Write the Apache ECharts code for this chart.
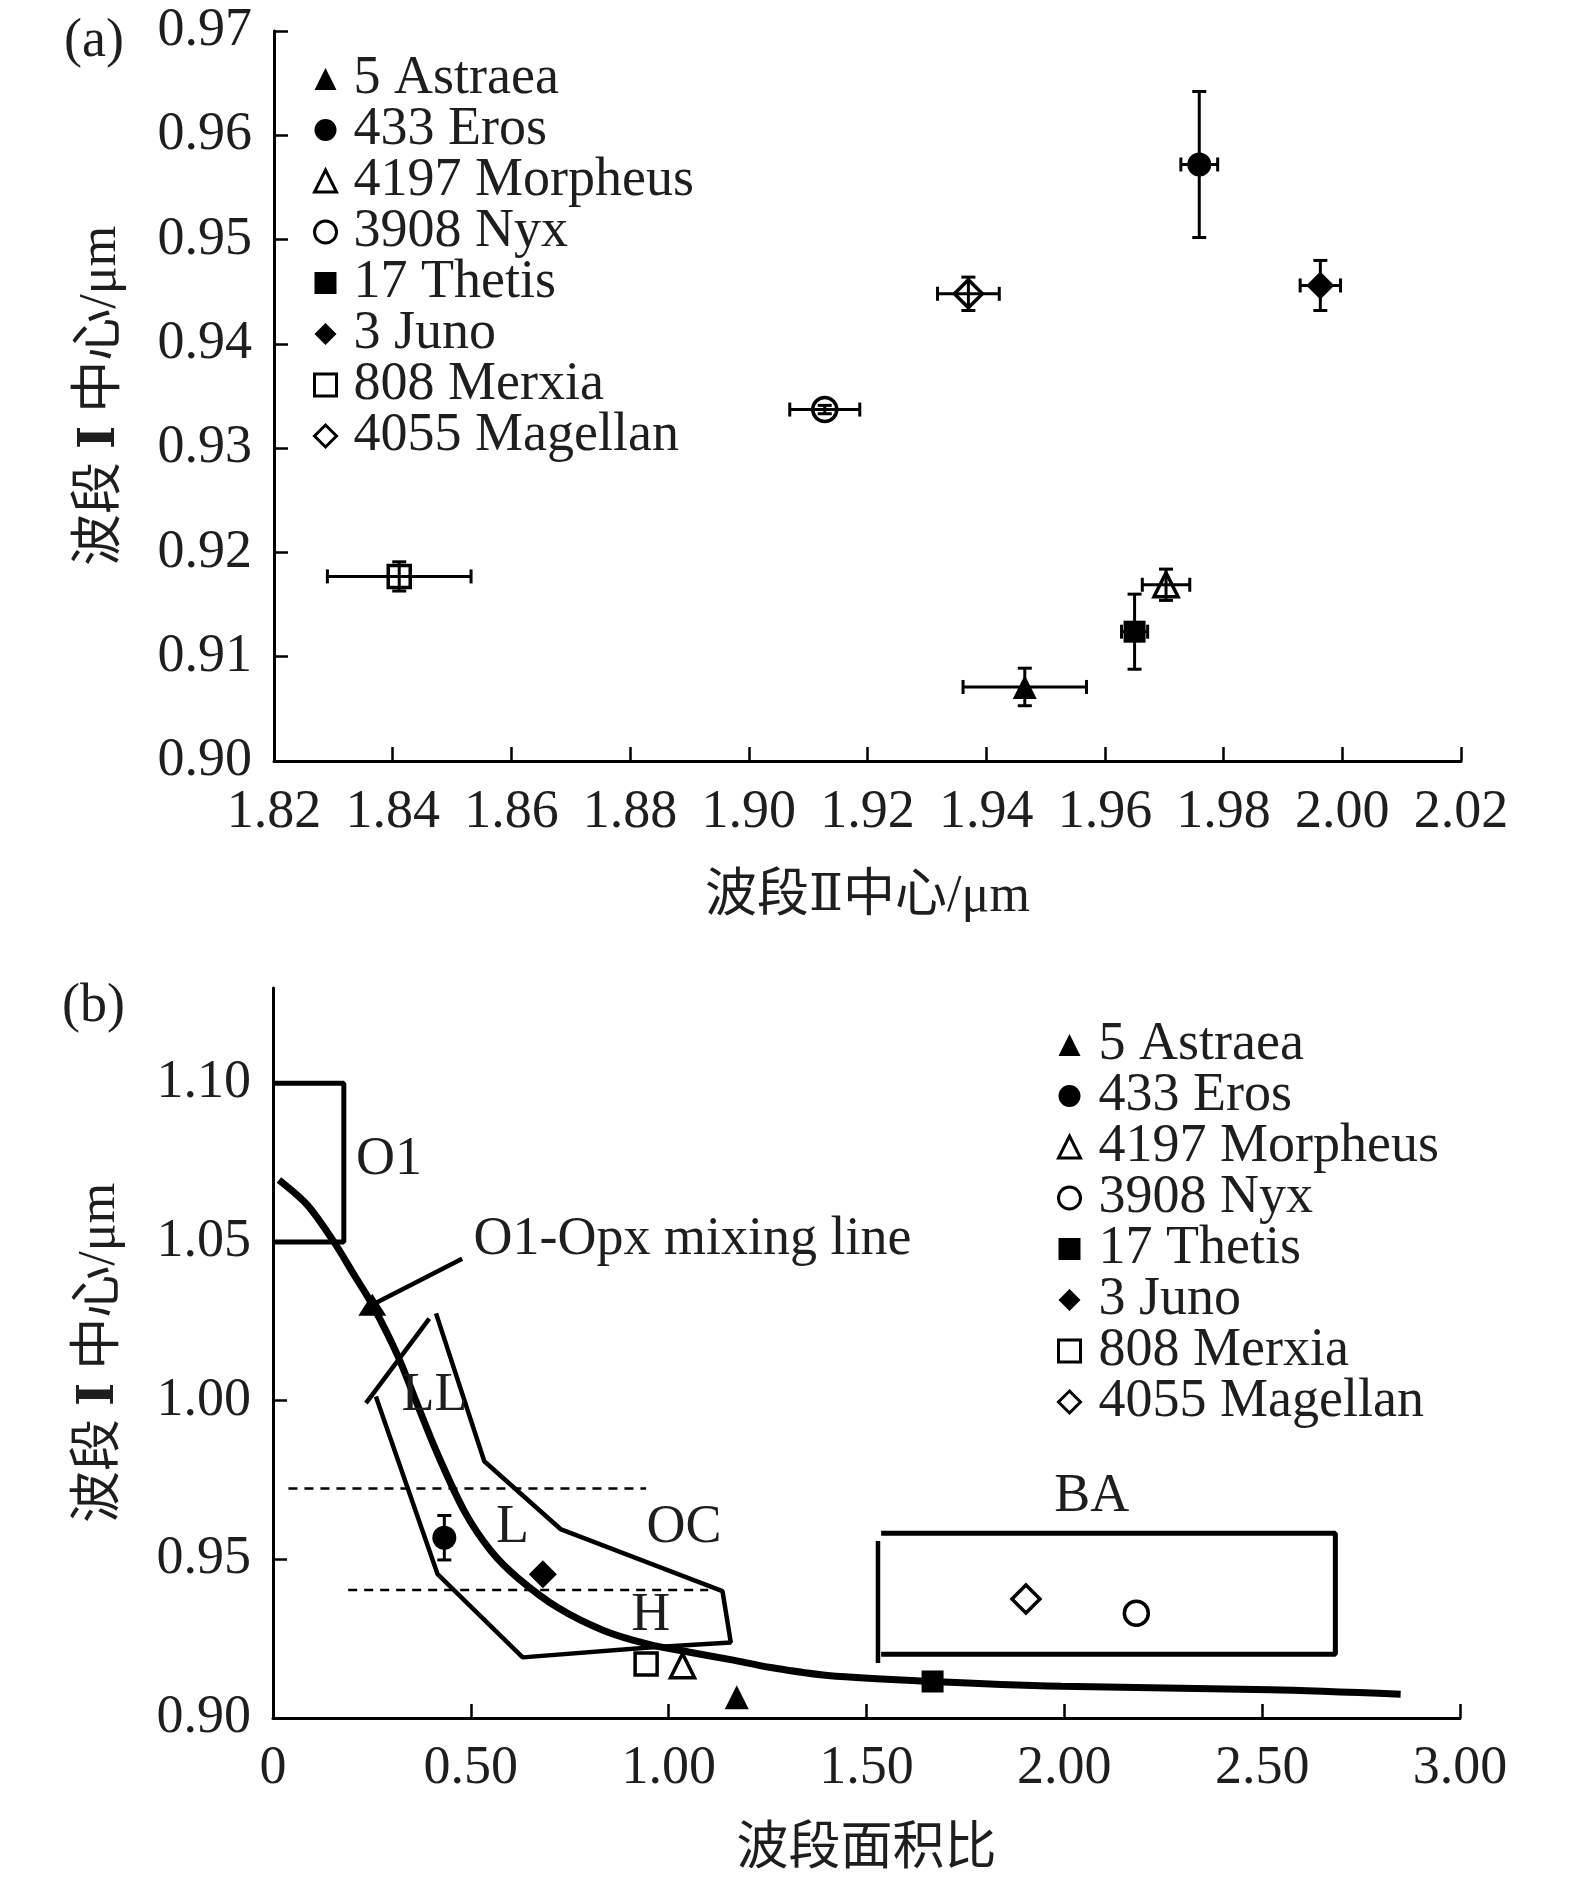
<!DOCTYPE html>
<html>
<head>
<meta charset="utf-8">
<title>波段中心与波段面积比</title>
<script src="https://cdn.jsdelivr.net/npm/echarts@6/dist/echarts.min.js"></script>
<style>
html, body { margin: 0; padding: 0; background: #fff; }
#main { width: 1575px; height: 1890px; }
</style>
</head>
<body>
<div id="main"></div>
<script>
/*
 * (a) 波段Ⅱ中心 - 波段Ⅰ中心 ; (b) 波段面积比 - 波段Ⅰ中心
 */
var asteroids = ['5 Astraea', '433 Eros', '4197 Morpheus', '3908 Nyx', '17 Thetis', '3 Juno', '808 Merxia', '4055 Magellan'];

// (a) 数值, μm
var bandIICenter = [1.9465, 1.9759, 1.9703, 1.9128, 1.9650, 1.9963, 1.8411, 1.9370];
var bandICenterA = [0.9071, 0.9572, 0.9169, 0.9337, 0.9124, 0.9456, 0.9177, 0.9448];
var bandIIError  = [0.0104, 0.0031, 0.0040, 0.0059, 0.0022, 0.0034, 0.0121, 0.0052];
var bandIErrorA  = [0.0018, 0.0070, 0.0015, 0.0004, 0.0036, 0.0024, 0.0014, 0.0016];

// (b) 数值
var areaRatio    = [1.172, 0.433, 1.035, 2.182, 1.667, 0.682, 0.943, 1.903];
var bandICenterB = [0.9065, 0.9568, 0.9165, 0.9330, 0.9115, 0.9453, 0.9170, 0.9375];
var bandIErrorB  = [0, 0.0070, 0, 0, 0, 0, 0, 0];

// (b) 区域与曲线 [波段面积比, 波段Ⅰ中心]
var mixingLine = [[0.015, 1.0695], [0.087, 1.0616], [0.154, 1.050], [0.205, 1.0396], [0.251, 1.0302],
  [0.314, 1.0145], [0.365, 0.9987], [0.413, 0.984], [0.4835, 0.9652], [0.551, 0.9526], [0.618, 0.9442],
  [0.7195, 0.9348], [0.837, 0.9275], [0.95, 0.9232], [1.05, 0.9208], [1.16, 0.9183], [1.258, 0.9159],
  [1.402, 0.9134], [1.665, 0.9115], [1.993, 0.9100], [2.521, 0.9089], [2.85, 0.9075]];
var o1Box = [[0, 1.10], [0.179, 1.10], [0.179, 1.05], [0, 1.05]];
var ocOutline = [[0.260, 1.0013], [0.416, 0.9453], [0.631, 0.9191], [0.95, 0.9222], [1.157, 0.9238],
  [1.136, 0.9400], [0.728, 0.9594], [0.534, 0.9809], [0.412, 1.0275]];
var llCap = [[0.235, 0.9992], [0.395, 1.0258]];
var upperDash = [[0.039, 0.9723], [0.943, 0.9723]];
var lowerDash = [[0.19, 0.9403], [1.10, 0.9403]];
var baSide = [[1.529, 0.9558], [1.529, 0.9173]];
var baBox = [[1.537, 0.9582], [2.685, 0.9582], [2.685, 0.9201], [1.537, 0.9201]];
var pointer = [[0.478, 1.0447], [0.251, 1.0302]];
var regionNames = ['O1', 'LL', 'L', 'OC', 'H', 'BA'];
var regionAt = [[0.293, 1.0758], [0.408, 1.0014], [0.605, 0.9600], [1.039, 0.9600], [0.955, 0.9322], [2.069, 0.9697]];
var pointerText = 'O1-Opx mixing line';
var pointerTextAt = [0.507, 1.0508];

var yTicksB = [0.90, 0.95, 1.00, 1.05, 1.10];

// 样式
var markerShape = ['triangle', 'circle', 'triangle', 'circle', 'rect', 'diamond', 'rect', 'diamond'];
var markerOpen  = [false, false, true, true, false, false, true, true];
var shapeSize = { triangle: 24, circle: 24, rect: 22, diamond: 28 };
var FONT = "'Liberation Serif', 'Noto Sans CJK SC', serif";
var INK = '#1e1e1e';

var myChart = echarts.init(document.getElementById('main'));

function axisCommon(o) {
  var base = {
    type: 'value',
    axisLine: { show: true, onZero: false, lineStyle: { color: '#000', width: 3 } },
    axisTick: { show: true, inside: true, length: 14, lineStyle: { color: '#000', width: 2.5 } },
    axisLabel: { fontSize: 54, color: INK, fontFamily: FONT },
    splitLine: { show: false },
    nameLocation: 'middle',
    nameTextStyle: {
      fontSize: 52, color: INK, fontFamily: FONT,
      rich: {
        r: { fontSize: 50, color: INK, fontFamily: "'DejaVu Serif', 'Liberation Serif', serif", fontWeight: 'bold' },
        n: { fontSize: 50, color: INK, fontFamily: "'DejaVu Serif', 'Liberation Serif', serif" }
      }
    }
  };
  for (var k in o) {
    if (typeof o[k] === 'object' && base[k] && !Array.isArray(o[k])) {
      for (var j in o[k]) base[k][j] = o[k][j];
    } else {
      base[k] = o[k];
    }
  }
  return base;
}

function errorBars(params, api) {
  var x = api.value(0), y = api.value(1), dx = api.value(2), dy = api.value(3);
  var st = { stroke: '#000', lineWidth: 3 };
  var cap = 7;
  var parts = [];
  if (dx > 0) {
    var a = api.coord([x - dx, y]), b = api.coord([x + dx, y]);
    parts.push({ type: 'line', shape: { x1: a[0], y1: a[1], x2: b[0], y2: b[1] }, style: st });
    parts.push({ type: 'line', shape: { x1: a[0], y1: a[1] - cap, x2: a[0], y2: a[1] + cap }, style: st });
    parts.push({ type: 'line', shape: { x1: b[0], y1: b[1] - cap, x2: b[0], y2: b[1] + cap }, style: st });
  }
  if (dy > 0) {
    var c = api.coord([x, y - dy]), d = api.coord([x, y + dy]);
    parts.push({ type: 'line', shape: { x1: c[0], y1: c[1], x2: d[0], y2: d[1] }, style: st });
    parts.push({ type: 'line', shape: { x1: c[0] - cap, y1: c[1], x2: c[0] + cap, y2: c[1] }, style: st });
    parts.push({ type: 'line', shape: { x1: d[0] - cap, y1: d[1], x2: d[0] + cap, y2: d[1] }, style: st });
  }
  return { type: 'group', children: parts };
}

function markerStyle(i) {
  return markerOpen[i]
    ? { color: '#fff', borderColor: '#000', borderWidth: 3.5, opacity: 1 }
    : { color: '#000', borderWidth: 0, opacity: 1 };
}

function outline(pts, width, dash) {
  return {
    type: 'line', xAxisIndex: 1, yAxisIndex: 1, data: pts, symbol: 'none', silent: true,
    smooth: false, z: 1,
    lineStyle: { color: '#000', width: width, type: dash || 'solid' }
  };
}

var series = [];
var errA = [], errB = [];
for (var i = 0; i < asteroids.length; i++) {
  series.push({
    type: 'scatter', name: asteroids[i], xAxisIndex: 0, yAxisIndex: 0,
    symbol: markerShape[i], symbolSize: shapeSize[markerShape[i]], symbolKeepAspect: true,
    itemStyle: markerStyle(i), z: 2,
    data: [[bandIICenter[i], bandICenterA[i]]]
  });
  errA.push([bandIICenter[i], bandICenterA[i], bandIIError[i], bandIErrorA[i]]);
}
series.push({
  type: 'custom', xAxisIndex: 0, yAxisIndex: 0, renderItem: errorBars, silent: true, z: 3,
  encode: { x: 0, y: 1 }, data: errA
});

// (b) 背景区域
series.push(outline(o1Box, 5));
series.push(outline(ocOutline, 4.5));
series.push(outline(llCap, 4.5));
series.push(outline(upperDash, 2.5, [9, 7]));
series.push(outline(lowerDash, 2.5, [9, 7]));
series.push(outline(baSide, 4.5));
series.push(outline(baBox, 5));
var mix = outline(mixingLine, 7);
mix.smooth = 0.3;
mix.z = 2;
series.push(mix);
series.push({
  type: 'line', xAxisIndex: 1, yAxisIndex: 1, silent: true, z: 3,
  showSymbol: true, showAllSymbol: true,
  lineStyle: { color: '#000', width: 4.5 }, itemStyle: { color: '#000', opacity: 1 },
  data: [
    { value: pointer[0], symbol: 'none' },
    { value: pointer[1], symbol: 'triangle', symbolSize: [28, 22] }
  ]
});

for (var k = 0; k < asteroids.length; k++) {
  series.push({
    type: 'scatter', name: asteroids[k], xAxisIndex: 1, yAxisIndex: 1,
    symbol: markerShape[k], symbolSize: shapeSize[markerShape[k]], symbolKeepAspect: true,
    itemStyle: markerStyle(k), z: 4,
    data: [[areaRatio[k], bandICenterB[k]]]
  });
  errB.push([areaRatio[k], bandICenterB[k], 0, bandIErrorB[k]]);
}
series.push({
  type: 'custom', xAxisIndex: 1, yAxisIndex: 1, renderItem: errorBars, silent: true, z: 5,
  encode: { x: 0, y: 1 }, data: errB
});

// 区域文字
var regionLabels = [];
for (var r = 0; r < regionNames.length; r++) {
  regionLabels.push({ name: regionNames[r], value: regionAt[r] });
}
series.push({
  type: 'scatter', xAxisIndex: 1, yAxisIndex: 1, symbolSize: 0, silent: true, z: 6,
  itemStyle: { opacity: 1 },
  data: regionLabels,
  label: { show: true, position: 'inside', formatter: '{b}', fontSize: 54, color: INK, fontFamily: FONT }
});
series.push({
  type: 'scatter', xAxisIndex: 1, yAxisIndex: 1, symbolSize: 0, silent: true, z: 6,
  itemStyle: { opacity: 1 },
  data: [{ name: pointerText, value: pointerTextAt }],
  label: { show: true, position: 'right', distance: 0, formatter: '{b}', fontSize: 54, color: INK, fontFamily: FONT }
});

var legendCommon = {
  data: asteroids, orient: 'vertical', padding: 0, itemWidth: 22, itemHeight: 22, itemGap: -3,
  selectedMode: false, itemStyle: { borderWidth: 3 }
};

myChart.setOption({
  animation: false,
  backgroundColor: '#fff',
  textStyle: { fontFamily: FONT },
  title: [
    { text: '(a)', left: 64, top: 15, padding: 0, textStyle: { fontSize: 54, fontWeight: 'normal', color: INK, fontFamily: FONT } },
    { text: '(b)', left: 62, top: 980, padding: 0, textStyle: { fontSize: 54, fontWeight: 'normal', color: INK, fontFamily: FONT } }
  ],
  legend: [
    Object.assign({}, legendCommon, {
      left: 313, top: 52,
      textStyle: { fontSize: 54, color: INK, fontFamily: FONT, padding: [0, 0, 0, 12] }
    }),
    Object.assign({}, legendCommon, {
      left: 1057, top: 1018,
      textStyle: { fontSize: 54, color: INK, fontFamily: FONT, padding: [0, 0, 0, 13] }
    })
  ],
  grid: [
    { left: 274, top: 31, width: 1187, height: 730 },
    { left: 273, top: 988, width: 1187, height: 730 }
  ],
  xAxis: [
    axisCommon({
      gridIndex: 0, min: 1.82, max: 2.02, interval: 0.02,
      name: '波段{n|Ⅱ}中心/μm', nameGap: 110,
      axisLabel: { margin: 25, formatter: function (v) { return v.toFixed(2); } }
    }),
    axisCommon({
      gridIndex: 1, min: 0, max: 3, interval: 0.5,
      name: '波段面积比', nameGap: 106,
      axisLabel: { margin: 24, formatter: function (v) { return v === 0 ? '0' : v.toFixed(2); } }
    })
  ],
  yAxis: [
    axisCommon({
      gridIndex: 0, min: 0.90, max: 0.97, interval: 0.01,
      name: '波段 {r|I} 中心/μm', nameGap: 147,
      axisLabel: { margin: 22, formatter: function (v) { return v.toFixed(2); } }
    }),
    axisCommon({
      gridIndex: 1, min: 0.90, max: 1.13, interval: 0.05,
      name: '波段 {r|I} 中心/μm', nameGap: 147,
      axisTick: { customValues: yTicksB },
      axisLabel: { margin: 22, customValues: yTicksB, formatter: function (v) { return v.toFixed(2); } }
    })
  ],
  series: series
});
</script>
</body>
</html>
